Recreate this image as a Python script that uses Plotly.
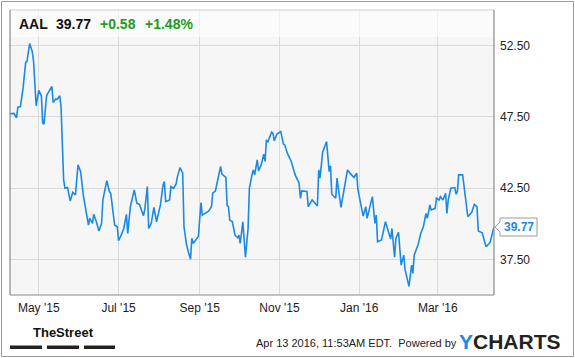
import plotly.graph_objects as go

# ---- data ----
dates = [
 "2015-04-09","2015-04-12","2015-04-14","2015-04-15","2015-04-17","2015-04-19","2015-04-21","2015-04-22",
 "2015-04-24","2015-04-26","2015-04-27","2015-04-29","2015-05-01","2015-05-03","2015-05-04","2015-05-05",
 "2015-05-07","2015-05-08","2015-05-11","2015-05-12","2015-05-14","2015-05-15","2015-05-17","2015-05-18",
 "2015-05-20","2015-05-21","2015-05-23","2015-05-25","2015-05-27","2015-05-29","2015-05-31","2015-06-02",
 "2015-06-04","2015-06-08","2015-06-09","2015-06-11","2015-06-12","2015-06-14","2015-06-16","2015-06-18",
 "2015-06-19","2015-06-22","2015-06-24","2015-06-25","2015-06-28","2015-06-30","2015-07-01","2015-07-03",
 "2015-07-05","2015-07-07","2015-07-08","2015-07-10","2015-07-13","2015-07-15","2015-07-17","2015-07-20",
 "2015-07-21","2015-07-23","2015-07-24","2015-07-26","2015-07-28","2015-07-30","2015-08-02","2015-08-04",
 "2015-08-05","2015-08-06","2015-08-09","2015-08-10","2015-08-12","2015-08-14","2015-08-15","2015-08-17",
 "2015-08-19","2015-08-20","2015-08-22","2015-08-24","2015-08-25","2015-08-26","2015-08-27","2015-08-31",
 "2015-09-02","2015-09-03","2015-09-05","2015-09-08","2015-09-10","2015-09-11","2015-09-13","2015-09-15",
 "2015-09-17","2015-09-18","2015-09-21","2015-09-22","2015-09-23","2015-09-24","2015-09-26","2015-09-28",
 "2015-09-30","2015-10-01","2015-10-02","2015-10-04","2015-10-06","2015-10-08","2015-10-09","2015-10-11",
 "2015-10-12","2015-10-13","2015-10-15","2015-10-16","2015-10-18","2015-10-20","2015-10-21","2015-10-22",
 "2015-10-23","2015-10-26","2015-10-27","2015-10-28","2015-10-30","2015-11-02","2015-11-04","2015-11-05",
 "2015-11-07","2015-11-10","2015-11-13","2015-11-16","2015-11-17","2015-11-18","2015-11-22","2015-11-23",
 "2015-11-26","2015-11-30","2015-12-01","2015-12-02","2015-12-04","2015-12-07","2015-12-09","2015-12-10",
 "2015-12-11","2015-12-14","2015-12-15","2015-12-18","2015-12-23","2015-12-26","2015-12-28","2015-12-30",
 "2015-12-31","2016-01-04","2016-01-06","2016-01-07","2016-01-11","2016-01-13","2016-01-14","2016-01-15",
 "2016-01-18","2016-01-21","2016-01-25","2016-01-26","2016-01-28","2016-01-29","2016-01-31","2016-02-02",
 "2016-02-04","2016-02-05","2016-02-08","2016-02-10","2016-02-11","2016-02-12","2016-02-15","2016-02-17",
 "2016-02-19","2016-02-21","2016-02-22","2016-02-24","2016-02-25","2016-02-28","2016-02-29","2016-03-02",
 "2016-03-03","2016-03-05","2016-03-07","2016-03-08","2016-03-09","2016-03-11","2016-03-14","2016-03-15",
 "2016-03-16","2016-03-17","2016-03-20","2016-03-24","2016-03-27","2016-03-29","2016-03-31","2016-04-01",
 "2016-04-04","2016-04-06","2016-04-07","2016-04-10","2016-04-13",
]
prices = [
 47.72,47.74,47.44,48.19,48.23,49.53,51.33,51.40,
 52.64,52.10,51.40,48.28,49.36,48.98,47.06,46.99,
 49.00,49.15,49.64,48.51,48.75,48.72,48.98,48.23,
 43.08,42.49,42.54,41.60,42.21,42.02,44.13,43.66,
 42.02,39.91,40.38,40.03,40.66,40.14,39.49,40.03,
 41.67,43.03,42.26,42.14,39.91,39.79,38.81,39.20,
 39.67,40.66,39.32,41.20,42.37,41.43,41.36,40.56,
 40.97,42.61,39.67,40.03,41.15,40.14,41.32,42.73,
 42.96,41.55,41.67,42.61,42.49,42.79,43.31,43.94,
 43.55,39.79,38.51,37.80,37.52,38.98,38.62,39.10,
 41.48,40.61,40.73,40.90,41.20,42.14,42.30,43.08,
 44.02,43.48,43.25,41.28,41.20,40.26,40.14,39.20,
 39.02,39.20,38.62,40.14,37.65,39.67,42.49,43.43,
 43.78,43.43,44.49,43.71,44.13,44.88,44.37,45.89,
 45.73,46.43,46.36,45.82,46.29,46.47,45.59,45.54,
 44.95,44.37,43.43,42.84,41.79,42.30,42.26,41.20,
 41.67,41.25,43.78,43.20,45.02,45.77,43.66,44.06,
 42.07,41.79,43.20,41.14,43.78,43.43,43.25,43.55,
 42.37,40.54,41.20,40.38,41.90,40.03,40.61,38.74,
 38.86,40.14,38.93,39.67,37.65,38.98,39.40,37.10,
 37.80,36.78,35.61,37.10,36.52,37.80,38.55,39.32,
 39.79,40.73,40.38,41.32,40.97,41.08,41.79,41.67,
 41.90,41.67,42.14,40.73,41.67,42.49,42.54,42.07,
 42.26,43.43,43.43,40.49,40.80,41.36,41.20,39.49,
 39.37,38.69,38.38,38.69,39.77,
]
ticker = "AAL"
last_price = "39.77"
change_abs = "+0.58"
change_pct = "+1.48%"
y_tickvals = [37.5, 42.5, 47.5, 52.5]
x_tickvals = ["2015-05-01", "2015-07-01", "2015-09-01", "2015-11-01", "2016-01-01", "2016-03-01"]
x_ticktext = ["May '15", "Jul '15", "Sep '15", "Nov '15", "Jan '16", "Mar '16"]
timestamp = "Apr 13 2016, 11:53AM EDT.  Powered by"

# ---- layout geometry (pixels) ----
W, H = 575, 358
L, R, T, B = 10, 494, 10, 295
PW, PH = R - L, B - T
def px(X):
    return (X - L) / PW
def py(Y):
    return (B - Y) / PH

FONT = "Liberation Sans, Arial, sans-serif"
BLUE = "#1a8ae6"
GREEN = "#1d9b1d"

fig = go.Figure()
fig.add_trace(go.Scatter(x=dates, y=prices, mode="lines",
                         line=dict(color=BLUE, width=1.6), hoverinfo="skip"))

shapes = []
# header overlay (white, semi transparent)
shapes.append(dict(type="rect", xref="paper", yref="paper", x0=0, x1=1, y0=py(37), y1=1,
                   fillcolor="rgba(255,255,255,0.6)", line=dict(width=0), layer="above"))
# plot borders
shapes.append(dict(type="line", xref="paper", yref="paper", x0=0, x1=1, y0=1, y1=1,
                   line=dict(color="#cfcfcf", width=1), layer="above"))
for (x0, y0, x1, y1) in [(0, 0, 0, 1), (1, 0, 1, 1), (0, 0, 1, 0)]:
    shapes.append(dict(type="line", xref="paper", yref="paper", x0=x0, x1=x1, y0=y0, y1=y1,
                       line=dict(color="#8a8a8a", width=1.2), layer="above"))
# outer frame
shapes.append(dict(type="rect", xref="paper", yref="paper", x0=px(1.5), x1=px(573.5),
                   y0=py(356.5), y1=py(1.5), line=dict(color="#9a9a9a", width=1), fillcolor="rgba(0,0,0,0)"))
# price tag
shapes.append(dict(type="path", xref="paper", yref="y", xsizemode="pixel", ysizemode="pixel",
                   xanchor=1, yanchor=float(last_price),
                   path="M 1 0 L 6 -5 L 6 -9 L 43 -9 L 43 9 L 6 9 L 6 5 Z",
                   fillcolor="white", line=dict(color="#9a9a9a", width=1)))
# TheStreet bars
for (a, b) in [(10, 42), (47, 79), (84, 115)]:
    shapes.append(dict(type="rect", xref="paper", yref="paper", x0=px(a), x1=px(b),
                       y0=py(349), y1=py(345.5), fillcolor="#222222", line=dict(width=0)))

ann = []
def text(X, Y, t, size, color, bold=True, anchor="center", family=FONT):
    ann.append(dict(xref="paper", yref="paper", x=px(X), y=py(Y), text=(f"<b>{t}</b>" if bold else t),
                    showarrow=False, xanchor=anchor, yanchor="middle",
                    font=dict(size=size, color=color, family=family)))

text(33, 23.5, ticker, 14, "#111111")
text(73.5, 23.5, last_price, 14, "#111111")
text(117.7, 23.5, change_abs, 14, GREEN)
text(169.3, 23.5, change_pct, 14, GREEN)
text(63, 332, "TheStreet", 13, "#111111")
text(459, 343, timestamp, 11, "#222222", bold=False, anchor="right")
ann.append(dict(xref="paper", yref="paper", x=px(563), y=py(341),
                text=f"<b><span style='color:{BLUE}'>Y</span>CHARTS</b>",
                showarrow=False, xanchor="right", yanchor="middle",
                font=dict(size=21, color="#222222", family=FONT)))
ann.append(dict(xref="paper", yref="y", x=1, y=float(last_price), xshift=24.5,
                text=f"<b>{last_price}</b>", showarrow=False, xanchor="center", yanchor="middle",
                font=dict(size=12, color=BLUE, family=FONT)))

fig.update_layout(
    width=W, height=H,
    margin=dict(l=L, r=W - R, t=T, b=H - B, pad=0),
    paper_bgcolor="white", plot_bgcolor="#f6f6f6",
    showlegend=False,
    shapes=shapes, annotations=ann,
    xaxis=dict(range=["2015-04-09", "2016-04-13"], tickvals=x_tickvals, ticktext=x_ticktext,
               showgrid=True, gridcolor="#dadada", gridwidth=1, zeroline=False, showline=False,
               ticks="", ticklabelstandoff=4,
               tickfont=dict(size=12, color="#222222", family=FONT)),
    yaxis=dict(range=[35, 55], side="right", tickvals=y_tickvals, tickformat=".2f",
               showgrid=True, gridcolor="#dadada", gridwidth=1, zeroline=False, showline=False,
               ticks="", ticklabelstandoff=5,
               tickfont=dict(size=12, color="#222222", family=FONT)),
)

fig.write_html("out.html")
